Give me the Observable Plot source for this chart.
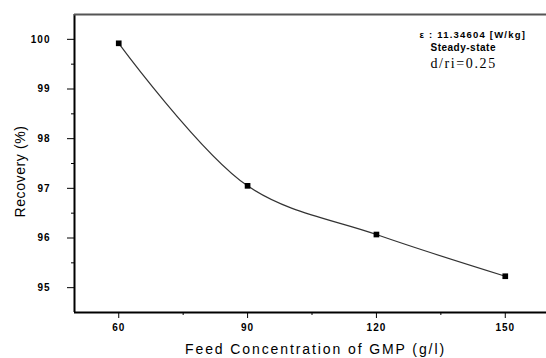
<!DOCTYPE html>
<html>
<head>
<meta charset="utf-8">
<script src="https://cdn.jsdelivr.net/npm/d3@7"></script>
<script src="https://cdn.jsdelivr.net/npm/@observablehq/plot@0.6"></script>
<style>
  html, body { margin: 0; padding: 0; background: #fff; }
  #chart svg { display: block; }
</style>
</head>
<body>
<div id="chart"></div>
<script>
const feedConc = [60, 90, 120, 150];
const recovery = [99.92, 97.05, 96.07, 95.23];
const xTicks = [60, 90, 120, 150];
const xMinorTicks = [75, 105, 135];
const yTicks = [95, 96, 97, 98, 99, 100];
const yMinorTicks = [95.5, 96.5, 97.5, 98.5, 99.5];
const xDomain = [49.7, 159.6];
const yDomain = [94.5, 100.5];
const annotLines = ["ε : 11.34604 [W/kg]", "Steady-state"];
const annotRatio = "d/ri=0.25";
const xLabel = "Feed Concentration of GMP (g/l)";
const yLabel = "Recovery (%)";

const data = feedConc.map((x, i) => ({x, y: recovery[i]}));
const fontFam = "'Liberation Sans', Arial, sans-serif";

const chart = Plot.plot({
  width: 546,
  height: 358,
  marginTop: 14,
  marginBottom: 46,
  marginLeft: 74,
  marginRight: 0,
  style: {fontFamily: fontFam, fontSize: "10px", color: "#000", background: "#fff"},
  x: {domain: xDomain},
  y: {domain: yDomain},
  marks: [
    Plot.axisX({ticks: xTicks, tickSize: 6, tickPadding: 5, tickFormat: d => String(d), label: null, fontSize: 10, fontWeight: "bold"}),
    Plot.axisX({ticks: xMinorTicks, tickSize: 3, text: null, label: null}),
    Plot.axisY({ticks: yTicks, tickSize: 7, tickPadding: 17, tickFormat: d => String(d), label: null, fontSize: 10, fontWeight: "bold"}),
    Plot.axisY({ticks: yMinorTicks, tickSize: 3, text: null, label: null}),
    Plot.ruleX([xDomain[0]], {stroke: "#000", strokeWidth: 2}),
    Plot.ruleY([yDomain[0]], {stroke: "#000", strokeWidth: 2}),
    Plot.ruleY([yDomain[1]], {stroke: "#555", strokeWidth: 2}),
    Plot.line(data, {x: "x", y: "y", curve: "catmull-rom", stroke: "#333", strokeWidth: 1.2}),
    Plot.dot(data, {x: "x", y: "y", symbol: "square", r: 3.2, fill: "#000", stroke: "none"}),
    Plot.text([annotLines[0]], {x: xDomain[1], y: yDomain[1], dx: -127, dy: 20, text: d => d, fontSize: 9.5, fontWeight: "bold", textAnchor: "start", fill: "#000"}),
    Plot.text([annotLines[1]], {x: xDomain[1], y: yDomain[1], dx: -116, dy: 33, text: d => d, fontSize: 10, fontWeight: "bold", textAnchor: "start", fill: "#000"}),
    Plot.text([annotRatio], {x: xDomain[1], y: yDomain[1], dx: -116, dy: 49, text: d => d, fontSize: 14, fontFamily: "'Liberation Serif', 'Times New Roman', serif", textAnchor: "start", fill: "#000"}),
    Plot.text([xLabel], {frameAnchor: "bottom", dx: 5, dy: 41, text: d => d, fontSize: 14, fill: "#000", textAnchor: "middle"}),
    Plot.text([yLabel], {frameAnchor: "left", dx: -54, dy: 8, rotate: -90, text: d => d, fontSize: 14, fill: "#000", textAnchor: "middle"})
  ]
});
const svg = d3.select(chart);
svg.selectAll("text").each(function() {
  const t = this.textContent;
  const s = d3.select(this);
  if (t === xLabel) s.style("letter-spacing", "1.9px");
  else if (t === yLabel) s.style("letter-spacing", "0.6px");
  else if (t === annotLines[0]) s.style("letter-spacing", "1.2px");
  else if (t === annotLines[1]) s.style("letter-spacing", "0.5px");
  else if (t === annotRatio) s.style("letter-spacing", "1.6px");
  else if (xTicks.map(String).includes(t) || yTicks.map(String).includes(t)) s.style("letter-spacing", "1px");
});
document.getElementById("chart").appendChild(chart);
</script>
</body>
</html>
